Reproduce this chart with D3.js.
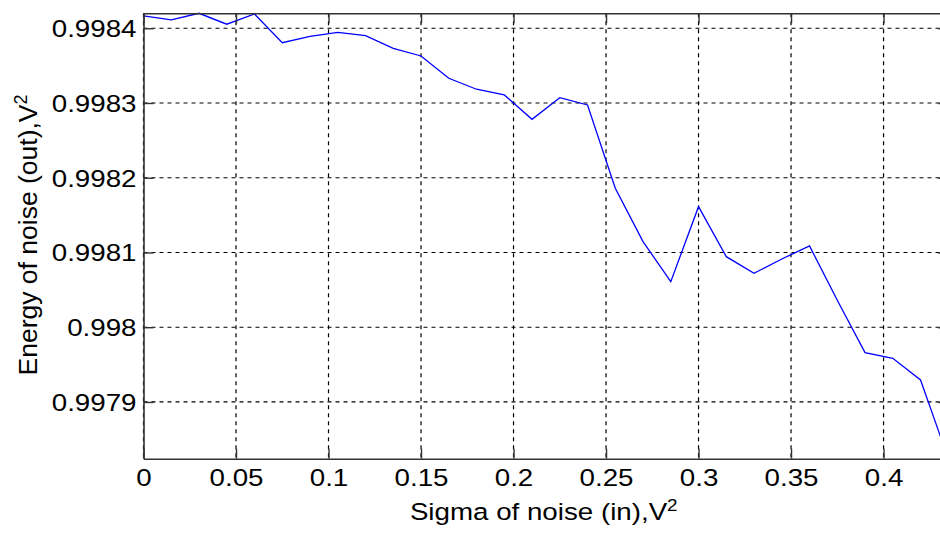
<!DOCTYPE html>
<html>
<head>
<meta charset="utf-8">
<script src="https://cdn.jsdelivr.net/npm/d3@7"></script>
<style>
  body { margin: 0; background: #fff; }
  svg { display: block; }
  text { font-family: "Liberation Sans", Arial, sans-serif; fill: #000; }
</style>
</head>
<body>
<div id="chart"></div>
<script>
// sigma of noise (in), sampled every 0.015
var sigma = [0, 0.015, 0.03, 0.045, 0.06, 0.075, 0.09, 0.105, 0.12, 0.135,
             0.15, 0.165, 0.18, 0.195, 0.21, 0.225, 0.24, 0.255, 0.27, 0.285,
             0.3, 0.315, 0.33, 0.345, 0.36, 0.375, 0.39, 0.405, 0.42, 0.435];
// energy of noise (out)
var energy = [0.9984165, 0.9984111, 0.9984200, 0.9984054, 0.9984191, 0.9983807, 0.9983890, 0.9983946, 0.9983901, 0.9983732,
              0.9983629, 0.9983331, 0.9983184, 0.9983108, 0.9982782, 0.9983071, 0.9982974, 0.9981859, 0.9981145, 0.9980610,
              0.9981613, 0.9980944, 0.9980722, 0.9980913, 0.9981087, 0.9980361, 0.9979660, 0.9979585, 0.9979294, 0.9978241];
var xTicks = [0, 0.05, 0.1, 0.15, 0.2, 0.25, 0.3, 0.35, 0.4];
var yTicks = [0.9979, 0.998, 0.9981, 0.9982, 0.9983, 0.9984];

var W = 940, H = 533;
var mLeft = 143.5, mRight = 948.3, mTop = 13.3, mBottom = 458.7;
var stretch = 1.18;

var svg = d3.select("#chart").append("svg")
    .attr("width", W)
    .attr("height", H);

var x = d3.scaleLinear().domain([0, d3.max(sigma)]).range([mLeft, mRight]);
var y = d3.scaleLinear().domain(d3.extent(energy)).range([mBottom, mTop]);

// grid
svg.append("g").selectAll("line").data(xTicks).enter().append("line")
    .attr("x1", function(d) { return x(d); })
    .attr("x2", function(d) { return x(d); })
    .attr("y1", mTop).attr("y2", mBottom)
    .attr("stroke", "#000").attr("stroke-width", 1.2)
    .style("stroke-dasharray", "4,4");
svg.append("g").selectAll("line").data(yTicks).enter().append("line")
    .attr("x1", mLeft).attr("x2", mRight)
    .attr("y1", function(d) { return y(d); })
    .attr("y2", function(d) { return y(d); })
    .attr("stroke", "#000").attr("stroke-width", 1.2)
    .style("stroke-dasharray", "4,4");

// data line
var line = d3.line()
    .x(function(d, i) { return x(sigma[i]); })
    .y(function(d) { return y(d); });
svg.append("path")
    .datum(energy)
    .attr("d", line)
    .attr("fill", "none")
    .attr("stroke", "#0000ff")
    .attr("stroke-width", 1.3);

// axes (ticks inward, box all round)
var fmt = d3.format("~g");
var gx = svg.append("g").attr("transform", "translate(0," + mBottom + ")")
    .call(d3.axisBottom(x).tickValues(xTicks).tickFormat(fmt).tickSizeInner(-10).tickSizeOuter(0));
var gxTop = svg.append("g").attr("transform", "translate(0," + mTop + ")")
    .call(d3.axisTop(x).tickValues(xTicks).tickFormat("").tickSizeInner(-10).tickSizeOuter(0));
var gy = svg.append("g").attr("transform", "translate(" + mLeft + ",0)")
    .call(d3.axisLeft(y).tickValues(yTicks).tickFormat(fmt).tickSizeInner(-10).tickSizeOuter(0));
var gyRight = svg.append("g").attr("transform", "translate(" + mRight + ",0)")
    .call(d3.axisRight(y).tickValues(yTicks).tickFormat("").tickSizeInner(-10).tickSizeOuter(0));

[gx, gxTop, gy, gyRight].forEach(function(g) {
  g.select(".domain").attr("stroke", "#333").attr("stroke-width", 1.6);
  g.selectAll(".tick line").attr("stroke", "#333").attr("stroke-width", 1.4);
});

gx.selectAll(".tick text")
    .style("font-size", "23.5px")
    .style("font-family", "Liberation Sans, Arial, sans-serif")
    .attr("y", 11)
    .attr("dy", "0.71em")
    .attr("transform", "scale(" + stretch + ",1)");
gy.selectAll(".tick text")
    .style("font-size", "23.5px")
    .style("font-family", "Liberation Sans, Arial, sans-serif")
    .attr("x", -7 / stretch)
    .attr("dy", "0.36em")
    .attr("transform", "scale(" + stretch + ",1)");

// x label
var xl = svg.append("text")
    .attr("transform", "translate(" + ((mLeft + 940) / 2 + 2) + ",520) scale(" + stretch + ",1)")
    .attr("text-anchor", "middle")
    .style("font-size", "23.5px");
xl.append("tspan").text("Sigma of noise (in),V");
xl.append("tspan").attr("dy", -9).style("font-size", "16px").text("2");

// y label
var yl = svg.append("text")
    .attr("transform", "translate(37,235) rotate(-90)")
    .attr("text-anchor", "middle")
    .style("font-size", "26.5px");
yl.append("tspan").text("Energy of noise (out),V");
yl.append("tspan").attr("dy", -10).style("font-size", "18px").text("2");
</script>
</body>
</html>
